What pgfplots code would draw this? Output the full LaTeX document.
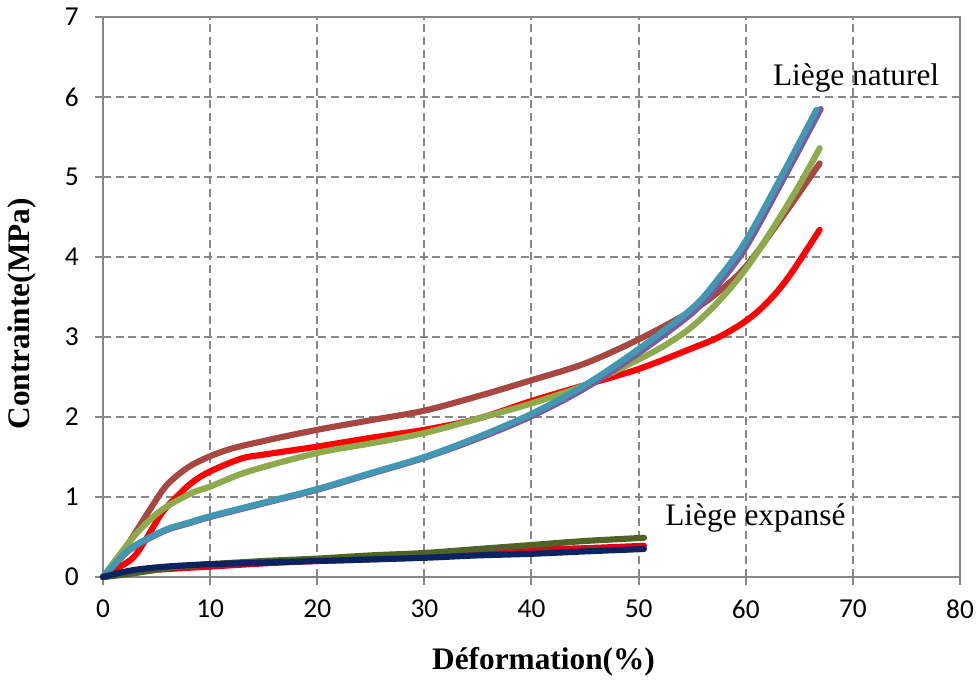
\documentclass[border=0pt]{standalone}
\usepackage{pgfplots}
\pgfplotsset{compat=1.18}
\usepackage{fontspec}
\setmainfont{Liberation Serif}
\newfontfamily\tickfont{Carlito}

\definecolor{framegray}{HTML}{878787}
\definecolor{gridgray}{HTML}{878787}
\definecolor{natred}{HTML}{FF0000}
\definecolor{natbrown}{HTML}{A84642}
\definecolor{natgreen}{HTML}{8DAA4C}
\definecolor{natpurple}{HTML}{7A5C9E}
\definecolor{natteal}{HTML}{4298B3}
\definecolor{expolive}{HTML}{4F6228}
\definecolor{expred}{HTML}{E0001A}
\definecolor{expnavy}{HTML}{0B2461}

\begin{document}
\begin{tikzpicture}
\useasboundingbox (-77.25pt,-78.75pt) rectangle (654.75pt,432.75pt);
\begin{axis}[
  at={(0,0)}, anchor=south west,
  scale only axis, width=642.75pt, height=420pt,
  xmin=0, xmax=80, ymin=0, ymax=7,
  xtick={0,10,...,80}, ytick={0,1,...,7},
  tick pos=left, tick align=outside, major tick length=6pt,
  tick style={framegray, line width=1.5pt},
  axis line style={framegray, line width=1.5pt},
  grid=major,
  major grid style={gridgray, line width=1.5pt, dash pattern=on 6pt off 3.5pt},
  ticklabel style={font=\tickfont\fontsize{20.5}{20.5}\selectfont},
  /pgf/number format/assume math mode=true,
  yticklabel style={anchor=east, inner sep=0pt, xshift=-12pt},
  xticklabel style={anchor=north, inner sep=0pt, yshift=-11pt},
  xlabel={Déformation(\%)},
  ylabel={Contrainte(MPa)},
  label style={font=\bfseries\fontsize{23.5}{24}\selectfont},
  xlabel style={at={(axis description cs:0.514,0)}, anchor=center, yshift=-63.75pt},
  ylabel style={at={(axis description cs:0,0.47)}, anchor=center, rotate=0, yshift=60.75pt},
  every axis plot/.append style={line width=4.6pt, line cap=round, line join=round, smooth, tension=0.55},
  clip=false,
]
% liège naturel
\addplot[natred] coordinates {
 (0,0) (1.1,0.09) (2.8,0.24) (4,0.47) (5.5,0.8) (7,1.02) (8.4,1.19) (10,1.32)
 (12.9,1.48) (15,1.53) (20,1.63) (25,1.74) (30,1.84) (35,1.98) (40,2.2)
 (45,2.4) (50,2.6) (55,2.86) (57.5,3.0) (60,3.2) (62,3.43) (64,3.75) (66.9,4.34)};
\addplot[natbrown] coordinates {
 (0,0) (1.5,0.25) (3,0.55) (4.85,0.94) (6.1,1.17) (8.3,1.4) (11.4,1.58)
 (15,1.7) (20,1.84) (25,1.96) (30,2.08) (35,2.26) (40,2.46)
 (45,2.67) (50,2.97) (55,3.33) (57.5,3.57) (60,3.88) (63.2,4.46) (66.9,5.17)};
\addplot[natgreen] coordinates {
 (0,0) (1.5,0.27) (3.3,0.57) (5.5,0.84) (8.3,1.05) (10,1.13) (13.6,1.32)
 (20,1.55) (25,1.67) (30,1.8) (35,1.98) (40,2.17) (45,2.4) (50,2.72)
 (52.5,2.9) (55,3.13) (57.5,3.45) (60,3.85) (62.5,4.35) (65,4.9) (66.9,5.36)};
\addplot[natpurple] coordinates {
 (0,0) (1,0.14) (2.4,0.33) (4,0.46) (6,0.59) (8,0.67) (10,0.75) (15,0.92)
 (20,1.09) (25,1.29) (30,1.49) (35,1.73) (40,2.01) (45,2.36) (50,2.8)
 (55,3.3) (57.5,3.67) (60,4.12) (63.5,4.97) (67,5.85)};
\addplot[natteal] coordinates {
 (0,0) (1,0.15) (2.4,0.34) (4,0.47) (6,0.6) (8,0.68) (10,0.76) (15,0.93)
 (20,1.1) (25,1.3) (30,1.5) (35,1.75) (40,2.04) (45,2.4) (50,2.85)
 (55,3.36) (57.5,3.74) (60,4.2) (63.5,5.05) (66.6,5.84)};
% liège expansé
\addplot[expred] coordinates {
 (0,0) (2,0.04) (5,0.09) (10,0.13) (15,0.17) (20,0.2) (25,0.22) (30,0.25)
 (35,0.29) (40,0.34) (45,0.36) (50.5,0.39)};
\addplot[expolive] coordinates {
 (0,0) (2,0.03) (4,0.07) (6,0.11) (8,0.14) (10,0.16) (15,0.2) (20,0.23)
 (25,0.27) (30,0.3) (35,0.35) (40,0.4) (45,0.45) (50.5,0.49)};
\addplot[expnavy] coordinates {
 (0,0) (1.5,0.05) (3,0.09) (5,0.12) (7,0.14) (10,0.16) (15,0.18) (20,0.2)
 (25,0.22) (30,0.24) (35,0.27) (40,0.29) (45,0.32) (50.5,0.35)};

\node[font=\fontsize{23.5}{24}\selectfont] at (axis cs:70.3,6.24) {Liège naturel};
\node[font=\fontsize{23.5}{24}\selectfont] at (axis cs:60.9,0.74) {Liège expansé};
\end{axis}
\end{tikzpicture}
\end{document}
